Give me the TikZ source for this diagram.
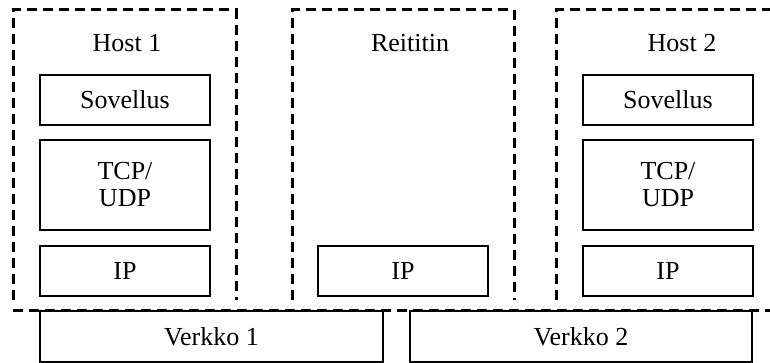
\documentclass[tikz,border=0pt]{standalone}
\usepackage{fontspec}
\setmainfont{Liberation Serif}
\begin{document}
\begin{tikzpicture}[x=1pt,y=-1pt,
  every node/.style={font=\fontsize{26}{27}\selectfont, align=center, inner sep=0pt},
  layer/.style={draw, line width=1.7pt, minimum width=170pt, minimum height=50pt},
  net/.style={draw, line width=1.7pt, minimum width=342pt, minimum height=51pt},
  group/.style={draw, line width=3pt, dash pattern=on 10pt off 6pt}]
\useasboundingbox (0,0) rectangle (770,363);
% dashed containers (open at the bottom)
\draw[group] (13,300) -- (13,10) -- (236,10) -- (236,300);
\draw[group] (292,300) -- (292,10) -- (514,10) -- (514,300);
\draw[group] (556,300) -- (556,10) -- (770,10);
\draw[group] (13,310) -- (770,310);
% titles
\node (h1) at (127,43) {Host 1};
\node (r) at (410,43) {Reititin};
\node (h2) at (682,43) {Host 2};
% host 1 stack
\node[layer] (s1) at (125,100) {Sovellus};
\node[layer, minimum height=90pt] (t1) at (125,185) {TCP/\\UDP};
\node[layer] (i1) at (125,271) {IP};
% router
\node[layer] (ir) at (403,271) {IP};
% host 2 stack
\node[layer] (s2) at (668,100) {Sovellus};
\node[layer, minimum height=90pt] (t2) at (668,185) {TCP/\\UDP};
\node[layer] (i2) at (668,271) {IP};
% networks
\node[net, minimum width=343pt] (v1) at (211.5,336.5) {Verkko 1};
\node[net] (v2) at (581,336.5) {Verkko 2};
\end{tikzpicture}
\end{document}
